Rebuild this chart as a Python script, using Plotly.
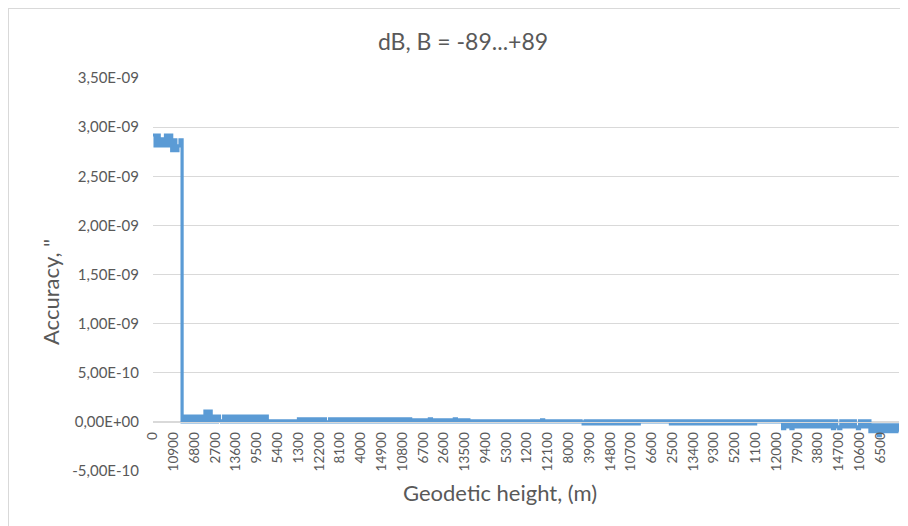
import plotly.graph_objects as go

# ---- data ----
chart_title = "dB, B = -89...+89"
x_title = "Geodetic height, (m)"
y_title = "Accuracy, \""

# category labels shown on the horizontal axis (one every 10 plotted points)
x_labels = ["0", "10900", "6800", "2700", "13600", "9500", "5400", "1300", "12200",
            "8100", "4000", "14900", "10800", "6700", "2600", "13500", "9400", "5300",
            "1200", "12100", "8000", "3900", "14800", "10700", "6600", "2500", "13400",
            "9300", "5200", "1100", "12000", "7900", "3800", "14700", "10600", "6500"]
points_per_label = 10

y_tick_values = [-5e-10, 0.0, 5e-10, 1e-9, 1.5e-9, 2e-9, 2.5e-9, 3e-9, 3.5e-9]
y_tick_text = ["-5,00E-10", "0,00E+00", "5,00E-10", "1,00E-09", "1,50E-09",
               "2,00E-09", "2,50E-09", "3,00E-09", "3,50E-09"]
y_range = [-5e-10, 3.5e-9]

# accuracy values in units of 1e-11 "
value_unit = 1e-11
accuracy_rows = [
    [292, 281, 292, 281, 288, 281, 292, 281, 292, 276],
    [287, 276, 281, 287, 0, 6, 0, 6, 0, 6],
    [0, 6, 0, 6, 0, 11, 0, 11, 0, 6],
    [0, 6, 1, 0, 6, 0, 6, 0, 6, 0],
    [6, 0, 6, 0, 6, 0, 6, 0, 6, 0],
    [6, 0, 6, 0, 6, 0, 1, 0, 1, 0],
    [1, 0, 1, 0, 1, 0, 1, 0, 1, 0],
    [3, 0, 3, 0, 3, 0, 3, 0, 3, 0],
    [3, 0, 3, 0, 0, 3, 0, 3, 0, 3],
    [0, 3, 0, 3, 0, 3, 0, 3, 0, 3],
    [0, 3, 0, 3, 0, 3, 0, 3, 0, 3],
    [0, 3, 0, 3, 0, 3, 0, 3, 0, 3],
    [0, 3, 0, 3, 0, 2, 0, 2, 0, 2],
    [0, 2, 0, 3, 0, 2, 0, 2, 0, 2],
    [0, 2, 0, 2, 0, 3, 0, 2, 0, 2],
    [0, 2, 0, 1, 0, 1, 0, 1, 0, 1],
    [0, 1, 0, 1, 0, 1, 0, 1, 0, 1],
    [0, 1, 0, 1, 0, 1, 0, 1, 0, 1],
    [0, 1, 0, 1, 0, 1, 0, 2, 0, 1],
    [0, 1, 0, 1, 0, 1, 0, 1, 0, 1],
    [0, 1, 0, 1, 0, 1, 0, -2, 1, -2],
    [1, -2, 1, -2, 1, -2, 1, -2, 1, -2],
    [1, -2, 1, -2, 1, -2, 1, -2, 1, -2],
    [1, -2, 1, -2, 1, 0, 1, 0, 1, 0],
    [1, 0, 1, 0, 1, 0, 1, 0, 1, -2],
    [1, -2, 1, -2, 1, -2, 1, -2, 1, -2],
    [1, -2, 1, -2, 1, -2, 1, -2, 1, -2],
    [1, -2, 1, -2, 1, -2, 1, -2, 1, -2],
    [1, -2, 1, -2, 1, -2, 1, -2, 1, -2],
    [1, 0, 1, 0, 1, 0, 1, 0, 1, 0],
    [1, 0, 1, -7, 1, -5, 1, -7, 1, -5],
    [1, -5, 1, -5, 1, -5, 1, -5, 1, -5],
    [1, -5, 1, -5, 1, -5, 1, -7, 1, -5],
    [-7, 1, -5, 1, -5, 1, -5, 1, -5, -7],
    [1, -5, 1, -5, 1, -10, -3, -10, -3, -14],
    [-3, -10, -3, -10, -3, -10, -3, -10, -3, -10],
]

# ---- build figure ----
values = [v * value_unit for row in accuracy_rows for v in row]
x_index = list(range(len(values)))
tick_positions = [i * points_per_label for i in range(len(x_labels))]

FONT = "Lato"
TXT = "#595959"
GRID = "#d9d9d9"

fig = go.Figure()
fig.add_trace(go.Scatter(
    x=x_index, y=values, mode="lines",
    line=dict(color="#5b9bd5", width=3.2, shape="hv"),
    showlegend=False, hoverinfo="skip",
))

axis_pos = (0 - y_range[0]) / (y_range[1] - y_range[0])

# the page body adds an 8px offset, so figure coordinates are page coordinates - 8
fig.update_layout(
    width=908, height=526,
    margin=dict(l=145, r=17, t=70, b=63),
    paper_bgcolor="white", plot_bgcolor="white",
    font=dict(family=FONT, color=TXT),
    title=dict(text=chart_title, x=455 / 908, xref="container", xanchor="center",
               y=1 - 34 / 526, yref="container", yanchor="middle",
               font=dict(family=FONT, size=23, color=TXT)),
    xaxis=dict(
        range=[0, len(values) - 1], tickmode="array",
        tickvals=tick_positions, ticktext=x_labels, tickangle=-90,
        tickfont=dict(family=FONT, size=13.5, color=TXT),
        showgrid=False, zeroline=False, showline=True, linecolor=GRID, linewidth=1,
        ticks="outside", ticklen=4, tickcolor="rgba(0,0,0,0)",
        anchor="free", position=axis_pos,
    ),
    yaxis=dict(
        range=y_range, tickmode="array", tickvals=y_tick_values, ticktext=y_tick_text,
        tickfont=dict(family=FONT, size=15, color=TXT),
        showgrid=True, gridcolor=GRID, gridwidth=1, zeroline=False, showline=False,
        ticks="outside", ticklen=10, tickcolor="rgba(0,0,0,0)",
    ),
    annotations=[
        dict(text=x_title, xref="paper", yref="paper", x=(499.5 - 153) / 746,
             y=(471 - 492) / 393, xanchor="center", yanchor="middle",
             showarrow=False, font=dict(family=FONT, size=22, color=TXT)),
        dict(text=y_title, xref="paper", yref="paper", x=(50 - 153) / 746,
             y=(471 - 292) / 393, xanchor="center", yanchor="middle", textangle=-90,
             showarrow=False, font=dict(family=FONT, size=22, color=TXT)),
    ],
    shapes=[
        dict(type="rect", xref="paper", yref="paper",
             x0=(8 - 153) / 746, x1=1.2, y0=-0.3, y1=(471 - 8) / 393,
             line=dict(color=GRID, width=2), fillcolor="rgba(0,0,0,0)", layer="below"),
    ],
)

fig.write_html("out.html")
